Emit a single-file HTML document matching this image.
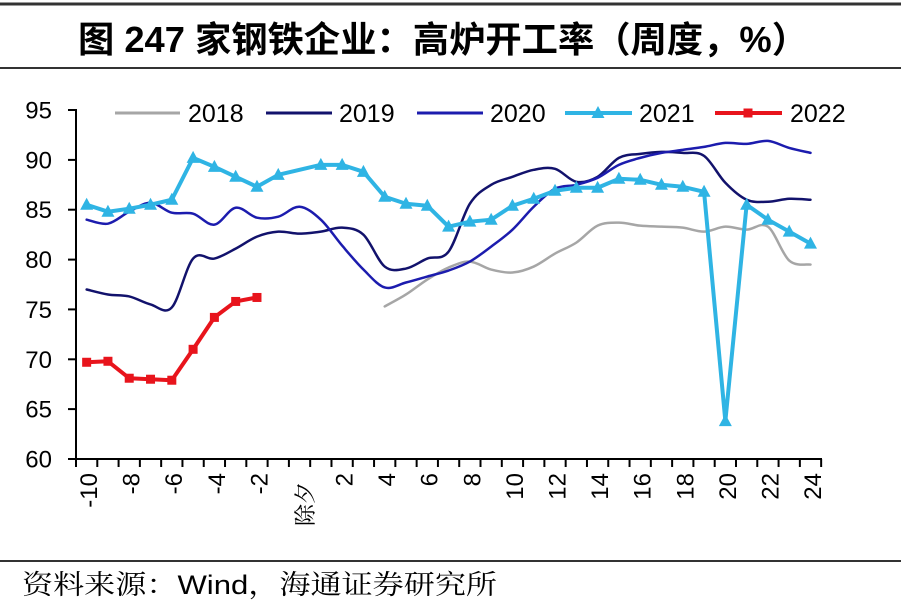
<!DOCTYPE html>
<html>
<head>
<meta charset="utf-8">
<style>
  html,body{margin:0;padding:0;background:#fff;}
  svg{display:block;}
  text{font-family:"Liberation Sans","Noto Sans CJK SC",sans-serif;}
</style>
</head>
<body>
<svg id="chart" width="901" height="607" viewBox="0 0 901 607" xmlns="http://www.w3.org/2000/svg">
  <defs>
    <path id="tri" d="M0,-7 L6.5,5 L-6.5,5 Z" fill="#2fb4e4"/>
    <rect id="sq" x="-4.5" y="-4.5" width="9" height="9" fill="#e8141c"/>
  </defs>
  <rect x="0" y="0" width="901" height="607" fill="#fff"/>

  <!-- title -->
  <line x1="0" y1="4" x2="901" y2="4" stroke="#333" stroke-width="3"/>
  <text x="78" y="52" font-size="36" font-weight="bold" fill="#000" textLength="730" lengthAdjust="spacingAndGlyphs" style='font-family:"Liberation Sans","Noto Sans CJK SC",sans-serif'>图 247 家钢铁企业：高炉开工率（周度，%）</text>
  <line x1="0" y1="68" x2="901" y2="68" stroke="#333" stroke-width="2"/>

  <!-- y axis -->
  <g stroke="#000" stroke-width="2">
    <line x1="76" y1="109" x2="76" y2="460"/>
    <line x1="68" y1="110" x2="76" y2="110"/>
    <line x1="68" y1="159.9" x2="76" y2="159.9"/>
    <line x1="68" y1="209.7" x2="76" y2="209.7"/>
    <line x1="68" y1="259.6" x2="76" y2="259.6"/>
    <line x1="68" y1="309.4" x2="76" y2="309.4"/>
    <line x1="68" y1="359.3" x2="76" y2="359.3"/>
    <line x1="68" y1="409.1" x2="76" y2="409.1"/>
    <line x1="68" y1="459" x2="76" y2="459"/>
  </g>
  <g font-size="24" fill="#000" text-anchor="end">
    <text x="52" y="118.5">95</text>
    <text x="52" y="168.4">90</text>
    <text x="52" y="218.2">85</text>
    <text x="52" y="268.1">80</text>
    <text x="52" y="317.9">75</text>
    <text x="52" y="367.8">70</text>
    <text x="52" y="417.6">65</text>
    <text x="52" y="467.5">60</text>
  </g>

  <!-- x axis -->
  <g stroke="#000" stroke-width="2">
    <line x1="75" y1="459" x2="822" y2="459"/>
  </g>
  <g id="xticks" stroke="#000" stroke-width="2">
    <line x1="76" y1="459" x2="76" y2="467"/>
    <line x1="97.29" y1="459" x2="97.29" y2="467"/>
    <line x1="118.58" y1="459" x2="118.58" y2="467"/>
    <line x1="139.87" y1="459" x2="139.87" y2="467"/>
    <line x1="161.16" y1="459" x2="161.16" y2="467"/>
    <line x1="182.45" y1="459" x2="182.45" y2="467"/>
    <line x1="203.74" y1="459" x2="203.74" y2="467"/>
    <line x1="225.03" y1="459" x2="225.03" y2="467"/>
    <line x1="246.32" y1="459" x2="246.32" y2="467"/>
    <line x1="267.61" y1="459" x2="267.61" y2="467"/>
    <line x1="288.9" y1="459" x2="288.9" y2="467"/>
    <line x1="310.19" y1="459" x2="310.19" y2="467"/>
    <line x1="331.48" y1="459" x2="331.48" y2="467"/>
    <line x1="352.77" y1="459" x2="352.77" y2="467"/>
    <line x1="374.06" y1="459" x2="374.06" y2="467"/>
    <line x1="395.35" y1="459" x2="395.35" y2="467"/>
    <line x1="416.64" y1="459" x2="416.64" y2="467"/>
    <line x1="437.93" y1="459" x2="437.93" y2="467"/>
    <line x1="459.22" y1="459" x2="459.22" y2="467"/>
    <line x1="480.51" y1="459" x2="480.51" y2="467"/>
    <line x1="501.8" y1="459" x2="501.8" y2="467"/>
    <line x1="523.09" y1="459" x2="523.09" y2="467"/>
    <line x1="544.38" y1="459" x2="544.38" y2="467"/>
    <line x1="565.67" y1="459" x2="565.67" y2="467"/>
    <line x1="586.96" y1="459" x2="586.96" y2="467"/>
    <line x1="608.25" y1="459" x2="608.25" y2="467"/>
    <line x1="629.54" y1="459" x2="629.54" y2="467"/>
    <line x1="650.83" y1="459" x2="650.83" y2="467"/>
    <line x1="672.12" y1="459" x2="672.12" y2="467"/>
    <line x1="693.41" y1="459" x2="693.41" y2="467"/>
    <line x1="714.7" y1="459" x2="714.7" y2="467"/>
    <line x1="735.99" y1="459" x2="735.99" y2="467"/>
    <line x1="757.28" y1="459" x2="757.28" y2="467"/>
    <line x1="778.57" y1="459" x2="778.57" y2="467"/>
    <line x1="799.86" y1="459" x2="799.86" y2="467"/>
    <line x1="821.15" y1="459" x2="821.15" y2="467"/>
  </g>
  <g font-size="24" fill="#000" text-anchor="end">
    <text transform="translate(97,473) rotate(-90)">-10</text>
    <text transform="translate(139.6,473) rotate(-90)">-8</text>
    <text transform="translate(182.2,473) rotate(-90)">-6</text>
    <text transform="translate(224.8,473) rotate(-90)">-4</text>
    <text transform="translate(267.4,473) rotate(-90)">-2</text>
    <text transform="translate(313,482) rotate(-90)" font-size="22" style='font-family:"Noto Serif CJK SC","Noto Sans CJK SC",serif'>除夕</text>
    <text transform="translate(352.5,473) rotate(-90)">2</text>
    <text transform="translate(395.1,473) rotate(-90)">4</text>
    <text transform="translate(437.7,473) rotate(-90)">6</text>
    <text transform="translate(480.3,473) rotate(-90)">8</text>
    <text transform="translate(522.9,473) rotate(-90)">10</text>
    <text transform="translate(565.5,473) rotate(-90)">12</text>
    <text transform="translate(608.1,473) rotate(-90)">14</text>
    <text transform="translate(650.7,473) rotate(-90)">16</text>
    <text transform="translate(693.3,473) rotate(-90)">18</text>
    <text transform="translate(735.9,473) rotate(-90)">20</text>
    <text transform="translate(778.5,473) rotate(-90)">22</text>
    <text transform="translate(821.1,473) rotate(-90)">24</text>
  </g>

  <!-- legend -->
  <g stroke-linecap="butt">
    <line x1="115" y1="113" x2="180" y2="113" stroke="#a6a6a6" stroke-width="3"/>
    <line x1="266" y1="113" x2="332" y2="113" stroke="#12126c" stroke-width="3"/>
    <line x1="417" y1="113" x2="483" y2="113" stroke="#1c1cae" stroke-width="3"/>
    <line x1="565" y1="113" x2="632" y2="113" stroke="#2fb4e4" stroke-width="4"/>
    <line x1="715" y1="113" x2="782" y2="113" stroke="#e8141c" stroke-width="4"/>
  </g>
  <use href="#tri" x="598" y="113"/>
  <use href="#sq" x="748" y="113"/>
  <g font-size="25" fill="#000">
    <text x="188" y="122">2018</text>
    <text x="339" y="122">2019</text>
    <text x="490" y="122">2020</text>
    <text x="639" y="122">2021</text>
    <text x="790" y="122">2022</text>
  </g>

  <!-- series (data coordinates: x = week index, y = value) -->
  <g transform="matrix(21.29 0 0 -9.971 299.55 1057.25)" fill="none" stroke-linejoin="round" stroke-linecap="round">
    <path id="s2018" vector-effect="non-scaling-stroke" stroke="#a6a6a6" stroke-width="2.5"
      d="M4 75.3L5 76.5L6 78L7 79.2L8 79.8L9 79L10 78.7L11 79.3L12 80.6L13 81.7L14 83.4L15 83.7L16 83.4L17 83.3L18 83.2L19 82.8L20 83.3L21 83L22 83.3L23 79.9L24 79.5"/>
    <path id="s2019" vector-effect="non-scaling-stroke" stroke="#12126c" stroke-width="2.5"
      d="M-10 77L-9 76.5L-8 76.3L-7 75.5L-6 75.2L-5 80.1L-4 80.1L-3 81.1L-2 82.3L-1 82.8L0 82.6L1 82.8L2 83.2L3 82.5L4 79.3L5 79.1L6 80.1L7 80.8L8 85.6L9 87.5L10 88.3L11 89L12 89.1L13 87.8L14 88.3L15 90.2L16 90.6L17 90.8L18 90.7L19 90.4L20 87.7L21 86L22 85.8L23 86.1L24 86"/>
    <path id="s2020" vector-effect="non-scaling-stroke" stroke="#1c1cae" stroke-width="2.5"
      d="M-10 84L-9 83.6L-8 84.8L-7 85.7L-6 84.7L-5 84.6L-4 83.5L-3 85.2L-2 84.2L-1 84.3L0 85.3L1 84L2 81.4L3 79L4 77.2L5 77.7L6 78.3L7 78.9L8 79.8L9 81.3L10 83L11 85.3L12 87.1L13 87.5L14 88.2L15 89.5L16 90.2L17 90.7L18 91L19 91.3L20 91.7L21 91.6L22 91.9L23 91.2L24 90.7"/>
    <path id="s2021" vector-effect="non-scaling-stroke" stroke="#2fb4e4" stroke-width="4"
      d="M-10 85.5L-9 84.8L-8 85.1L-7 85.5L-6 86L-5 90.2L-4 89.3L-3 88.3L-2 87.3L-1 88.5L1 89.5L2 89.5L3 88.8L4 86.3L5 85.6L6 85.4L7 83.3L8 83.8L9 84L10 85.4L11 86.1L12 86.9L13 87.2L14 87.2L15 88.1L16 88L17 87.5L18 87.3L19 86.8L20 63.8L21 85.5L22 84L23 82.8L24 81.6"/>
    <path id="s2022" vector-effect="non-scaling-stroke" stroke="#e8141c" stroke-width="4"
      d="M-10 69.7L-9 69.8L-8 68.1L-7 68L-6 67.9L-5 71L-4 74.2L-3 75.8L-2 76.2"/>
  </g>

  <!-- 2021 markers -->
  <g>
    <use href="#tri" x="86.65" y="204.73"/>
    <use href="#tri" x="107.94" y="211.71"/>
    <use href="#tri" x="129.23" y="208.72"/>
    <use href="#tri" x="150.52" y="204.73"/>
    <use href="#tri" x="171.81" y="199.74"/>
    <use href="#tri" x="193.1" y="157.86"/>
    <use href="#tri" x="214.39" y="166.84"/>
    <use href="#tri" x="235.68" y="176.81"/>
    <use href="#tri" x="256.97" y="186.78"/>
    <use href="#tri" x="278.26" y="174.82"/>
    <use href="#tri" x="320.84" y="164.85"/>
    <use href="#tri" x="342.13" y="164.85"/>
    <use href="#tri" x="363.42" y="171.83"/>
    <use href="#tri" x="384.71" y="196.75"/>
    <use href="#tri" x="406" y="203.73"/>
    <use href="#tri" x="427.29" y="205.72"/>
    <use href="#tri" x="448.58" y="226.67"/>
    <use href="#tri" x="469.87" y="221.68"/>
    <use href="#tri" x="491.16" y="219.69"/>
    <use href="#tri" x="512.45" y="205.72"/>
    <use href="#tri" x="533.74" y="198.75"/>
    <use href="#tri" x="555.03" y="190.77"/>
    <use href="#tri" x="576.32" y="187.78"/>
    <use href="#tri" x="597.61" y="187.78"/>
    <use href="#tri" x="618.9" y="178.8"/>
    <use href="#tri" x="640.19" y="179.8"/>
    <use href="#tri" x="661.48" y="184.79"/>
    <use href="#tri" x="682.77" y="186.78"/>
    <use href="#tri" x="704.06" y="191.77"/>
    <use href="#tri" x="725.35" y="421.1"/>
    <use href="#tri" x="746.64" y="204.73"/>
    <use href="#tri" x="767.93" y="219.69"/>
    <use href="#tri" x="789.22" y="231.65"/>
    <use href="#tri" x="810.51" y="243.62"/>
  </g>
  <!-- 2022 markers -->
  <g>
    <use href="#sq" x="86.65" y="362.27"/>
    <use href="#sq" x="107.94" y="361.27"/>
    <use href="#sq" x="129.23" y="378.22"/>
    <use href="#sq" x="150.52" y="379.22"/>
    <use href="#sq" x="171.81" y="380.22"/>
    <use href="#sq" x="193.1" y="349.31"/>
    <use href="#sq" x="214.39" y="317.4"/>
    <use href="#sq" x="235.68" y="301.45"/>
    <use href="#sq" x="256.97" y="297.46"/>
  </g>

  <!-- footer -->
  <line x1="0" y1="561" x2="901" y2="561" stroke="#333" stroke-width="2"/>
  <text x="22" y="594" font-size="27" fill="#000" textLength="475" lengthAdjust="spacingAndGlyphs" style='font-family:"Liberation Sans","Noto Serif CJK SC",serif'>资料来源：Wind，海通证券研究所</text>
</svg>
<script>
(function(){
  function parse(d){
    var out=[];var re=/[ML]\s*(-?[\d.]+)\s+(-?[\d.]+)/g;var m;
    while((m=re.exec(d))){out.push([parseFloat(m[1]),parseFloat(m[2])]);}
    return out;
  }
  function smooth(p){
    var t=1/6;var d='M'+p[0][0]+' '+p[0][1];
    for(var i=0;i<p.length-1;i++){
      var p0=p[i>0?i-1:i],p1=p[i],p2=p[i+1],p3=p[i+2<p.length?i+2:i+1];
      var c1x=p1[0]+(p2[0]-p0[0])*t,c1y=p1[1]+(p2[1]-p0[1])*t;
      var c2x=p2[0]-(p3[0]-p1[0])*t,c2y=p2[1]-(p3[1]-p1[1])*t;
      d+='C'+c1x.toFixed(3)+' '+c1y.toFixed(3)+' '+c2x.toFixed(3)+' '+c2y.toFixed(3)+' '+p2[0]+' '+p2[1];
    }
    return d;
  }
  ['s2018','s2019','s2020'].forEach(function(id){
    var el=document.getElementById(id);
    if(el){el.setAttribute('d',smooth(parse(el.getAttribute('d'))));}
  });
})();
</script>
</body>
</html>
